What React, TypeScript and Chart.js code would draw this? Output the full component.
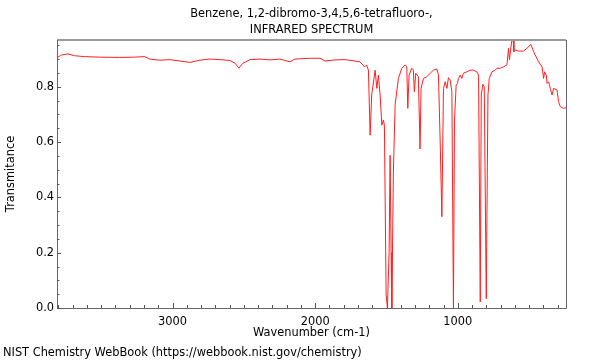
import React, { useEffect, useRef } from "react";
import { Chart, registerables } from "chart.js";

Chart.register(...registerables);

const TITLE_LINES = ["Benzene, 1,2-dibromo-3,4,5,6-tetrafluoro-,", "INFRARED SPECTRUM"];
const FOOTER = "NIST Chemistry WebBook (https://webbook.nist.gov/chemistry)";
const X_TITLE = "Wavenumber (cm-1)";
const Y_TITLE = "Transmitance";

const X_MIN = 242;
const X_MAX = 3810;
const Y_MIN = 0;
const Y_MAX = 0.969;
const X_MAJOR = [1000, 2000, 3000];
const Y_MAJOR = [0, 0.2, 0.4, 0.6, 0.8];

const wavenumbers = [
  3810, 3777, 3735, 3686, 3616, 3511, 3370, 3265, 3195, 3159, 3089, 3019, 2949, 2879,
  2808, 2738, 2668, 2598, 2562, 2535, 2507, 2457, 2387, 2317, 2247, 2177, 2142, 2037,
  1966, 1931, 1861, 1791, 1721, 1686, 1655, 1639, 1627, 1615, 1604, 1580, 1568, 1557,
  1545, 1533, 1522, 1515, 1503, 1494, 1482, 1475, 1468, 1463, 1452, 1440, 1417, 1393,
  1370, 1358, 1351, 1342, 1323, 1312, 1305, 1295, 1277, 1265, 1258, 1241, 1218, 1194,
  1171, 1147, 1136, 1124, 1112, 1101, 1089, 1077, 1066, 1054, 1042, 1031, 1024, 1012,
  1003, 996, 984, 972, 961, 937, 914, 891, 867, 855, 843, 836, 825, 815, 801, 789, 780,
  761, 738, 726, 703, 680, 656, 645, 638, 631, 621, 612, 607, 598, 575, 540, 516, 488,
  469, 458, 434, 410, 399, 392, 380, 375, 364, 352, 340, 329, 305, 294, 282, 259, 242,
];

const transmittance = [
  0.905, 0.915, 0.919, 0.912, 0.909, 0.907, 0.906, 0.907, 0.909, 0.9, 0.896, 0.898, 0.893, 0.888,
  0.896, 0.9, 0.898, 0.895, 0.885, 0.867, 0.885, 0.898, 0.9, 0.897, 0.9, 0.89, 0.9, 0.903,
  0.903, 0.893, 0.897, 0.898, 0.893, 0.89, 0.872, 0.878, 0.86, 0.625, 0.77, 0.86, 0.794, 0.842,
  0.77, 0.661, 0.68, 0.661, 0.05, 0.0, 0.2, 0.552, 0.2, 0.0, 0.49, 0.734, 0.83, 0.867,
  0.879, 0.872, 0.722, 0.842, 0.867, 0.86, 0.782, 0.849, 0.836, 0.575, 0.794, 0.83, 0.836, 0.849,
  0.86, 0.864, 0.842, 0.6, 0.33, 0.794, 0.818, 0.794, 0.833, 0.824, 0.782, 0.0, 0.673, 0.806,
  0.812, 0.83, 0.842, 0.83, 0.849, 0.854, 0.86, 0.86, 0.854, 0.842, 0.022, 0.77, 0.809, 0.8, 0.034, 0.77, 0.83,
  0.854, 0.86, 0.867, 0.867, 0.872, 0.879, 0.939, 0.897, 0.933, 0.969, 0.969, 0.927, 0.933, 0.929, 0.929, 0.939, 0.953,
  0.927, 0.915, 0.89, 0.872, 0.83, 0.854, 0.842, 0.812, 0.818, 0.794, 0.77, 0.794, 0.788, 0.746, 0.728, 0.722, 0.724,
];

const FONT = "'DejaVu Sans', sans-serif";
const FSIZE = 11.4;

const decorPlugin = {
  id: "decor",
  afterDraw(chart: any) {
    const { ctx, chartArea } = chart;
    const { left, right, top, bottom } = chartArea;
    const xs = chart.scales.x;
    const ys = chart.scales.y;
    ctx.save();
    // frame
    ctx.strokeStyle = "#9a9a9a";
    ctx.lineWidth = 2;
    ctx.beginPath();
    ctx.moveTo(left, top);
    ctx.lineTo(right, top);
    ctx.stroke();
    ctx.strokeStyle = "#666";
    ctx.lineWidth = 1;
    ctx.beginPath();
    ctx.moveTo(left + 0.5, top);
    ctx.lineTo(left + 0.5, bottom + 0.5);
    ctx.lineTo(right + 0.5, bottom + 0.5);
    ctx.lineTo(right + 0.5, top);
    ctx.stroke();
    // x ticks
    ctx.strokeStyle = "#555";
    ctx.beginPath();
    for (let v = 300; v <= X_MAX; v += 100) {
      const px = Math.round(xs.getPixelForValue(v)) + 0.5;
      const len = v % 1000 === 0 ? 5 : 3;
      ctx.moveTo(px, bottom);
      ctx.lineTo(px, bottom - len);
    }
    // y ticks
    for (let i = 0; i * 0.05 <= Y_MAX; i++) {
      const v = i * 0.05;
      const py = Math.round(ys.getPixelForValue(v)) + 0.5;
      const len = i % 4 === 0 ? 4 : 2.5;
      ctx.moveTo(left, py);
      ctx.lineTo(left + len, py);
    }
    ctx.stroke();
    // titles
    ctx.fillStyle = "#000";
    ctx.font = `${FSIZE}px ${FONT}`;
    ctx.textAlign = "center";
    ctx.textBaseline = "middle";
    const cx = (left + right) / 2;
    ctx.fillText(TITLE_LINES[0], cx, 14);
    ctx.fillText(TITLE_LINES[1], cx, 30);
    ctx.textAlign = "left";
    ctx.fillText(FOOTER, 3, 353);
    ctx.restore();
  },
};

export default function App() {
  const ref = useRef<HTMLCanvasElement | null>(null);
  useEffect(() => {
    if (!ref.current) return;
    const points = wavenumbers.map((w, i) => ({ x: w, y: transmittance[i] }));
    const chart = new Chart(ref.current, {
      type: "line",
      data: {
        datasets: [
          {
            data: points,
            borderColor: "#ff2020",
            borderWidth: 1,
            pointRadius: 0,
            tension: 0,
            fill: false,
          },
        ],
      },
      options: {
        animation: false,
        responsive: false,
        events: [],
        layout: { padding: { top: 40, right: 34, left: 0, bottom: 0 } },
        plugins: { legend: { display: false }, tooltip: { enabled: false }, title: { display: false } },
        scales: {
          x: {
            type: "linear",
            reverse: true,
            min: X_MIN,
            max: X_MAX,
            grid: { display: false, drawTicks: false },
            border: { display: false },
            afterBuildTicks: (s: any) => {
              s.ticks = X_MAJOR.map((v) => ({ value: v }));
            },
            ticks: {
              autoSkip: false,
              maxRotation: 0,
              padding: 7,
              color: "#000",
              font: { family: FONT, size: FSIZE },
              callback: (v: any) => String(v),
            },
            title: {
              display: true,
              text: X_TITLE,
              color: "#000",
              font: { family: FONT, size: FSIZE },
              padding: { top: 0, bottom: 20 },
            },
            afterFit: (s: any) => {
              s.height = 52;
            },
          },
          y: {
            min: Y_MIN,
            max: Y_MAX,
            grid: { display: false, drawTicks: false },
            border: { display: false },
            afterBuildTicks: (s: any) => {
              s.ticks = Y_MAJOR.map((v) => ({ value: v }));
            },
            ticks: {
              autoSkip: false,
              padding: 3,
              color: "#000",
              font: { family: FONT, size: FSIZE },
              callback: (v: any) => Number(v).toFixed(1),
            },
            title: {
              display: true,
              text: Y_TITLE,
              color: "#000",
              font: { family: FONT, size: FSIZE },
              padding: { top: 4, bottom: 0 },
            },
            afterFit: (s: any) => {
              s.width = 57;
            },
          },
        },
      },
      plugins: [decorPlugin],
    });
    return () => chart.destroy();
  }, []);
  return (
    <div style={{ position: "fixed", left: 0, top: 0, width: 600, height: 360, background: "#fff" }}>
      <canvas ref={ref} width={600} height={360} style={{ width: 600, height: 360 }} />
    </div>
  );
}
